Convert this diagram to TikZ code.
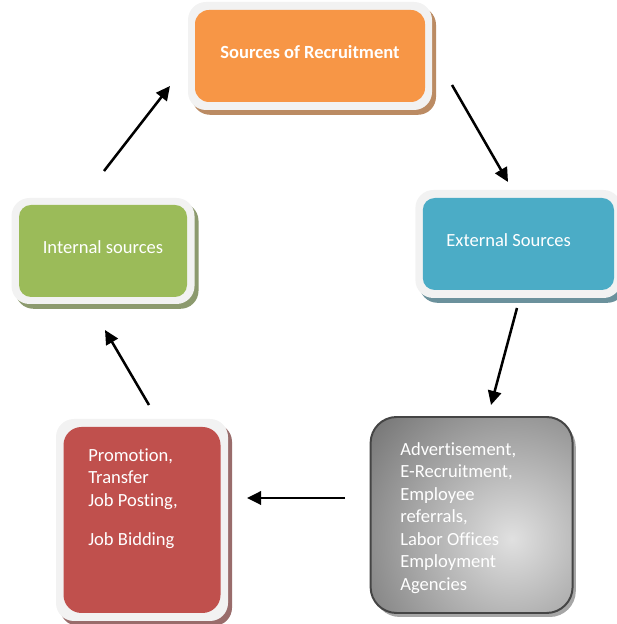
\documentclass[tikz,border=0pt]{standalone}
\usepackage{fontspec}
\setmainfont{Carlito}[Ligatures=NoCommon]
\usetikzlibrary{shadows,arrows.meta}
\usepackage{xcolor}
\definecolor{orangebox}{HTML}{F79646}
\definecolor{bluebox}{HTML}{4BACC6}
\definecolor{greenbox}{HTML}{9BBB59}
\definecolor{redbox}{HTML}{C0504D}
\definecolor{framegray}{HTML}{F2F2F2}
\definecolor{boxborder}{HTML}{454545}

\begin{document}
\begin{tikzpicture}
[Frame/.style={rectangle,rounded corners=0.45cm,fill=framegray,drop shadow={shadow xshift=0.1cm,shadow yshift=-0.12cm,fill=#1,opacity=1}},
Tag/.style={rectangle,inner sep=0pt,text=white,align=left,font=\fontsize{13.2}{16}\selectfont},
OrangeNode/.style={rectangle,rounded corners=0.35cm,fill=orangebox,text=white,font=\fontsize{13.2}{16}\selectfont\bfseries, minimum width=5.75cm, minimum height=2.3cm, text depth=0.2cm},
BlueNode/.style={rectangle,rounded corners=0.3cm,fill=bluebox,text=white,font=\fontsize{13.2}{16}\selectfont, minimum width=4.78cm, minimum height=2.3cm, text width=3.6cm, align=flush left, text depth=0.2cm},
GreenNode/.style={rectangle,rounded corners=0.3cm,fill=greenbox,text=white,font=\fontsize{13.2}{16}\selectfont, minimum width=4.2cm, minimum height=2.3cm, text depth=0.2cm},
RedNode/.style={rectangle,rounded corners=0.45cm,fill=redbox, minimum width=3.925cm, minimum height=4.65cm},
GrayNode/.style={rectangle,rounded corners=0.65cm,draw=boxborder,line width=1.4pt, minimum width=5.05cm, minimum height=4.9cm,
  drop shadow={shadow xshift=0.08cm,shadow yshift=-0.1cm,fill=gray!70,opacity=1},
  path picture={\shade[inner color=black!12,outer color=black!82] ([xshift=1cm,yshift=-0.6cm]path picture bounding box.center) circle (7.6cm);}},
Arrow/.style={line width=1.8pt,-{Triangle[length=10pt,width=9.5pt]}}]

\useasboundingbox (0,0) rectangle (15.4,15.6);

% Sources of Recruitment
\node[Frame=orangebox!50!gray, minimum width=6.1cm, minimum height=2.7cm] (f1) at (7.75, 14.2) {};
\node[OrangeNode] (n1) at (7.75, 14.2) {Sources of Recruitment};

% External Sources
\node[Frame=bluebox!40!gray, minimum width=5.15cm, minimum height=2.7cm] (f2) at (12.96, 9.5) {};
\node[BlueNode] (n2) at (12.96, 9.5) {External Sources};

% Internal sources
\node[Frame=greenbox!45!gray, minimum width=4.575cm, minimum height=2.65cm] (f3) at (2.575, 9.325) {};
\node[GreenNode] (n3) at (2.575, 9.325) {Internal sources};

% internal methods
\node[Frame=redbox!40!gray, minimum width=4.3cm, minimum height=5.05cm] (f4) at (3.55, 2.6) {};
\node[RedNode] (n4) at (3.55, 2.6) {};
\node[Tag, anchor=north west] (t4) at (2.2, 4.4) {Promotion,\\Transfer\\Job Posting,\\[12pt]Job Bidding};

% external methods
\node[GrayNode] (n5) at (11.79, 2.725) {};
\node[Tag, anchor=north west] (t5) at (10.0, 4.55) {Advertisement,\\E-Recruitment,\\Employee\\referrals,\\Labor Offices\\Employment\\Agencies};

% arrows
\coordinate (a1) at (2.6, 11.325);
\coordinate (b1) at (4.25, 13.45);
\coordinate (a2) at (11.3, 13.475);
\coordinate (b2) at (12.7, 11.05);
\coordinate (a3) at (12.925, 7.9);
\coordinate (b3) at (12.275, 5.475);
\coordinate (a4) at (8.625, 3.15);
\coordinate (b4) at (6.175, 3.15);
\coordinate (a5) at (3.725, 5.475);
\coordinate (b5) at (2.625, 7.35);
\draw[Arrow] (a1) -- (b1);
\draw[Arrow] (a2) -- (b2);
\draw[Arrow] (a3) -- (b3);
\draw[Arrow] (a4) -- (b4);
\draw[Arrow] (a5) -- (b5);

\end{tikzpicture}
\end{document}
